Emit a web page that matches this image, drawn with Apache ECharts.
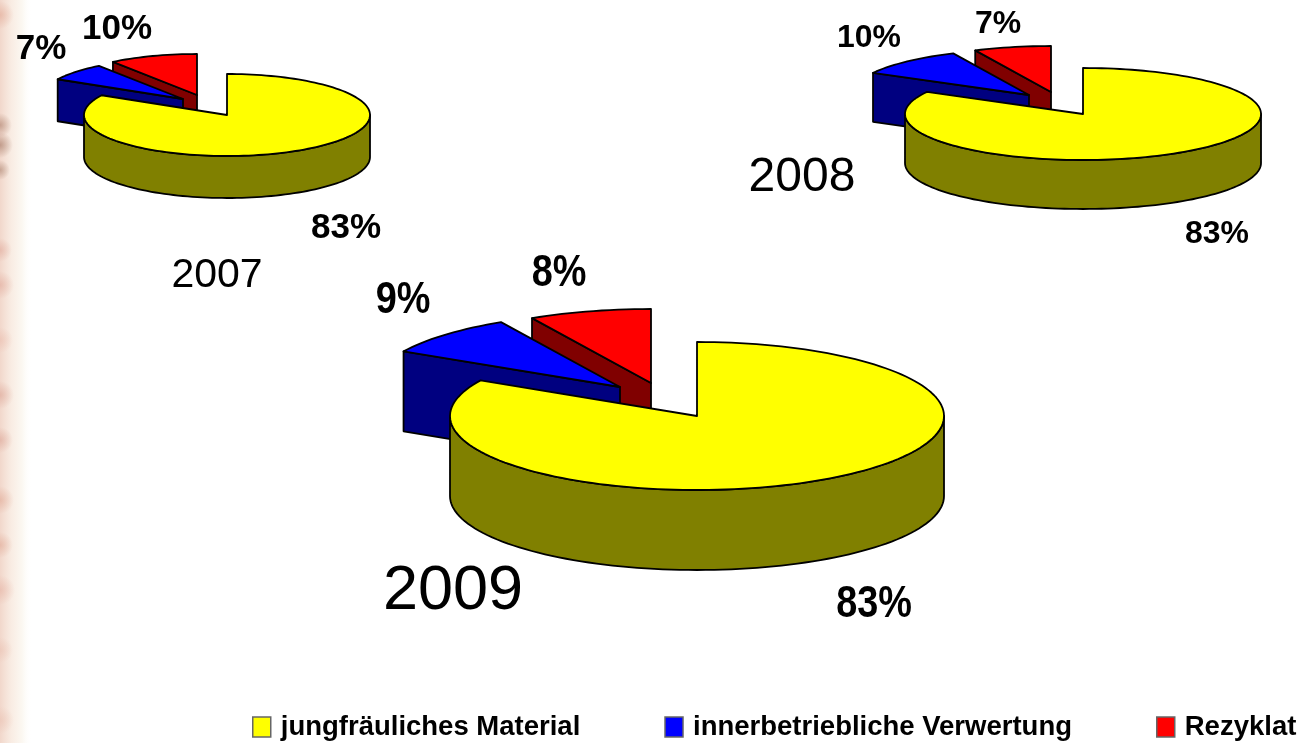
<!DOCTYPE html>
<html>
<head>
<meta charset="utf-8">
<style>html,body{margin:0;padding:0;background:#fff}#main{width:1300px;height:743px}</style>
<script src="https://cdn.jsdelivr.net/npm/echarts@6/dist/echarts.min.js"></script>
</head>
<body>
<div id="main"></div>
<script>
const years = ['2007', '2008', '2009'];
const categories = ['jungfräuliches Material', 'innerbetriebliche Verwertung', 'Rezyklat'];
const values2007 = [83, 7, 10];
const values2008 = [83, 10, 7];
const values2009 = [83, 9, 8];
const allValues = [values2007, values2008, values2009];

const topColors = ['#ffff00', '#0000ff', '#ff0000'];
const wallColors = ['#808000', '#000080', '#800000'];

// placement of each pie on the page, apex = [x, y] of every slice after explosion
const pies = [
    { rx: 143, ry: 41, depth: 42, apex: [[227, 115], [183, 99], [197, 95]], font: 35, stretch: 1,
      labels: [[346, 228], [41, 49], [117, 29]], year: [217, 276], yearFont: 41 },
    { rx: 178, ry: 46, depth: 49, apex: [[1083, 114], [1029, 95], [1051, 92]], font: 31, stretch: 1.03,
      labels: [[1217, 234], [869, 38], [998, 24]], year: [802, 178], yearFont: 48 },
    { rx: 247, ry: 74, depth: 80, apex: [[697, 416], [620, 387], [651, 383]], font: 44, stretch: 0.86,
      labels: [[874, 605], [403, 301], [559, 274]], year: [453, 592], yearFont: 63 }
];

// blotches of the worn paper edge: y, radius, colour
const edgeBlotches = [
    [15, 14, '226,170,150'], [125, 12, '170,125,105'], [145, 13, '160,115,95'], [170, 10, '170,130,110'],
    [250, 12, '225,170,155'], [285, 14, '225,170,155'], [340, 13, '235,190,175'], [395, 14, '220,165,150'],
    [440, 13, '220,165,150'], [500, 14, '225,170,150'], [545, 13, '225,170,150'], [590, 15, '230,180,165'],
    [650, 13, '235,195,180'], [720, 14, '235,195,180']
];

function ellipsePoint(apex, pie, deg) {
    const a = deg * Math.PI / 180;
    return [apex[0] + Math.sin(a) * pie.rx, apex[1] - Math.cos(a) * pie.ry];
}

function arcPoints(apex, pie, from, to) {
    const pts = [];
    const n = Math.max(2, Math.ceil(Math.abs(to - from) / 2));
    for (let i = 0; i <= n; i++) {
        pts.push(ellipsePoint(apex, pie, from + (to - from) * i / n));
    }
    return pts;
}

function drawSlice(params, api) {
    const { yearIdx, catIdx } = seriesInfo[params.seriesIndex];
    const pie = pies[yearIdx];
    const apex = pie.apex[catIdx];
    const value = api.value(0);
    const before = api.value(1);
    const from = before / 100 * 360;
    const to = (before + value) / 100 * 360;
    const line = { stroke: '#000', lineWidth: 1.8, lineJoin: 'round' };
    const children = [];

    const down = (p) => [p[0], p[1] + pie.depth];
    if (catIdx === 0) {
        // front rim of the big slice, only the part facing the viewer
        const rim = arcPoints(apex, pie, Math.max(from, 90), Math.min(to, 270));
        children.push({
            type: 'polygon',
            shape: { points: rim.concat(rim.slice().reverse().map(down)) },
            style: Object.assign({ fill: wallColors[catIdx] }, line)
        });
    } else {
        const edge = ellipsePoint(apex, pie, from);
        children.push({
            type: 'polygon',
            shape: { points: [apex, edge, down(edge), down(apex)] },
            style: Object.assign({ fill: wallColors[catIdx] }, line)
        });
    }
    children.push({
        type: 'polygon',
        shape: { points: [apex].concat(arcPoints(apex, pie, from, to)) },
        style: Object.assign({ fill: topColors[catIdx] }, line)
    });
    const lp = pie.labels[catIdx];
    children.push({
        type: 'text',
        x: lp[0],
        y: lp[1],
        scaleX: pie.stretch,
        style: {
            text: value + '%',
            fill: '#000',
            font: 'bold ' + pie.font + 'px "Liberation Sans", Arial, sans-serif',
            textAlign: 'center',
            textVerticalAlign: 'middle'
        }
    });
    return { type: 'group', children };
}

const seriesInfo = [];
const series = [];
// back slices first so the big one lies on top of them
years.forEach((year, yearIdx) => {
    const values = allValues[yearIdx];
    [2, 1, 0].forEach((catIdx) => {
        let before = 0;
        for (let i = 0; i < catIdx; i++) before += values[i];
        seriesInfo.push({ yearIdx, catIdx });
        series.push({
            type: 'custom',
            name: categories[catIdx],
            coordinateSystem: 'none',
            silent: true,
            animation: false,
            itemStyle: { color: topColors[catIdx] },
            renderItem: drawSlice,
            data: [[values[catIdx], before]]
        });
    });
});

const yearTexts = years.map((year, i) => ({
    type: 'text',
    x: pies[i].year[0],
    y: pies[i].year[1],
    silent: true,
    style: {
        text: year,
        fill: '#000',
        font: pies[i].yearFont + 'px "Liberation Sans", Arial, sans-serif',
        textAlign: 'center',
        textVerticalAlign: 'middle'
    }
}));

// worn paper edge on the left side of the slide
const edgeShade = {
    type: 'rect',
    silent: true,
    z: -10,
    shape: { x: 0, y: 0, width: 32, height: 743 },
    style: {
        fill: new echarts.graphic.LinearGradient(0, 0, 1, 0, [
            { offset: 0, color: 'rgba(238,205,190,0.8)' },
            { offset: 0.35, color: 'rgba(246,228,215,0.7)' },
            { offset: 0.7, color: 'rgba(250,245,236,0.7)' },
            { offset: 1, color: 'rgba(255,255,255,0)' }
        ])
    }
};
const edgeSpots = edgeBlotches.map((b) => ({
    type: 'circle',
    silent: true,
    z: -9,
    shape: { cx: 0, cy: b[0], r: b[1] },
    style: {
        fill: new echarts.graphic.RadialGradient(0.5, 0.5, 0.5, [
            { offset: 0, color: 'rgba(' + b[2] + ',0.6)' },
            { offset: 1, color: 'rgba(' + b[2] + ',0)' }
        ])
    }
}));

const chart = echarts.init(document.getElementById('main'));
chart.setOption({
    backgroundColor: '#fff',
    animation: false,
    legend: {
        data: categories,
        left: 252,
        top: 713,
        padding: 0,
        itemGap: 84,
        itemWidth: 18,
        itemHeight: 20,
        icon: 'rect',
        itemStyle: { borderColor: '#666', borderWidth: 1.5 },
        selectedMode: false,
        textStyle: {
            color: '#000',
            fontFamily: '"Liberation Sans", Arial, sans-serif',
            fontWeight: 'bold',
            fontSize: 27.5,
            padding: [0, 0, 0, 5]
        }
    },
    graphic: { elements: [edgeShade].concat(edgeSpots, yearTexts) },
    series
});
</script>
</body>
</html>
